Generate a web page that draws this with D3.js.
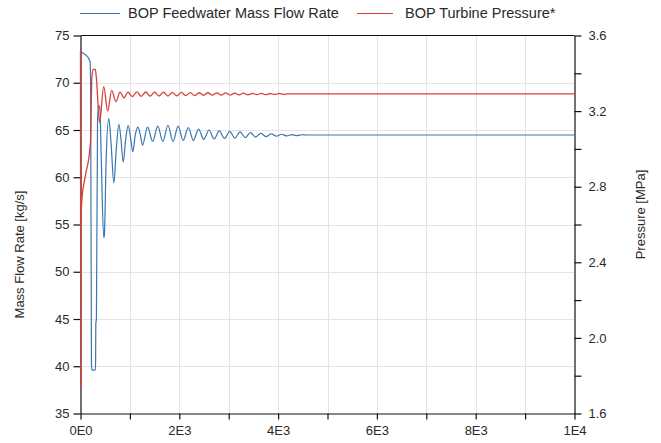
<!DOCTYPE html>
<html><head><meta charset="utf-8">
<script src="https://cdn.jsdelivr.net/npm/d3@7"></script>
<style>
body{margin:0;background:#fff}
svg{display:block}
text{font-family:"Liberation Sans",Arial,sans-serif;fill:#2a2a2a}
</style>
</head><body>
<svg id="c" width="661" height="443"></svg>
<script>
// ---- data ----
const seriesNames = ["BOP Feedwater Mass Flow Rate", "BOP Turbine Pressure*"];
const flowTime = [0,60,150,195,205,222,232,300,306,310,322,345,370,392,420,470,482,520,573,620,675,725,776,820,864,915,965,1010,1059,1110,1160,1210,1255,
  1358,1461,1564,1667,1770,1873,1976,2079,2182,2285,2390,2495,2600,2705,2810,2915,3020,3125,3230,3335,3440,3545,3650,3755,3860,3965,4070,4175,4280,4385,4490,4560,10000];
const flowValue = [73.3,73.1,72.7,72.2,69.8,40.2,39.6,39.6,40.5,44.5,45.0,66.0,67.6,67.3,62.0,53.6,53.8,62.0,66.2,63.5,59.4,63.0,65.6,64.0,61.6,64.0,65.5,64.3,62.7,64.5,65.3,64.5,63.4,
  65.3,63.8,65.4,63.8,65.5,63.8,65.4,63.9,65.25,63.9,65.1,64.0,65.0,64.05,64.9,64.1,64.85,64.15,64.8,64.2,64.72,64.25,64.65,64.3,64.6,64.35,64.55,64.37,64.52,64.4,64.5,64.47,64.47];
const pressureTime = [0,3,6,25,100,190,205,230,260,300,320,385,400,470,551,630,720,800,880,960,
  1050,1140,1230,1320,1410,1500,1590,1680,1770,1860,1950,2040,2130,2220,2310,2400,2490,2580,2670,2760,2850,2940,3030,3120,3210,3300,3390,3480,3570,3660,3750,3840,3930,4020,4110,4190,10000];
const pressureValue = [3.52,1.74,2.58,2.72,2.86,3.0,3.05,3.38,3.42,3.42,3.38,3.14,3.16,3.33,3.20,3.31,3.25,3.30,3.27,3.30,
  3.277,3.302,3.278,3.301,3.279,3.300,3.280,3.300,3.280,3.299,3.281,3.299,3.282,3.298,3.282,3.297,3.283,3.297,3.284,3.296,3.284,3.296,3.285,3.295,3.286,3.295,3.286,3.294,3.287,3.294,3.287,3.293,3.288,3.293,3.289,3.291,3.291];
const xTickValues = [0,1000,2000,3000,4000,5000,6000,7000,8000,9000,10000];
const xTickLabels = ["0E0","","2E3","","4E3","","6E3","","8E3","","1E4"];
const leftTickValues = [35,40,45,50,55,60,65,70,75];
const rightTickValues = [1.6,1.8,2.0,2.2,2.4,2.6,2.8,3.0,3.2,3.4,3.6];
const rightTickLabels = ["1.6","","2.0","","2.4","","2.8","","3.2","","3.6"];
const leftTitle = "Mass Flow Rate [kg/s]";
const rightTitle = "Pressure [MPa]";

// ---- layout ----
const L = 80.5, R = 574.5, T = 35.5, B = 413.5;
const blue = "#3a76b2", red = "#d8403c", grid = "#e4e4e4";
const svg = d3.select("#c");

const x = d3.scaleLinear().domain([0,10000]).range([L,R]);
const yL = d3.scaleLinear().domain([35,75]).range([B,T]);
const yR = d3.scaleLinear().domain([1.6,3.6]).range([B,T]);

// grid
svg.append("g").selectAll("line").data(xTickValues.slice(1,-1)).join("line")
  .attr("x1",d=>Math.round(x(d))+0.5).attr("x2",d=>Math.round(x(d))+0.5).attr("y1",T).attr("y2",B)
  .attr("stroke",grid).attr("stroke-width",1);
svg.append("g").selectAll("line").data(leftTickValues.slice(1,-1)).join("line")
  .attr("y1",d=>Math.round(yL(d))+0.5).attr("y2",d=>Math.round(yL(d))+0.5).attr("x1",L).attr("x2",R)
  .attr("stroke",grid).attr("stroke-width",1);

// axes
function styleAxis(g){
  g.selectAll(".domain").attr("stroke","#111").attr("stroke-width",1.2);
  g.selectAll(".tick line").attr("stroke","#111").attr("stroke-width",1.2);
  g.selectAll(".tick text").attr("font-size","13px").attr("fill","#2a2a2a")
   .attr("font-family","'Liberation Sans',Arial,sans-serif");
}
svg.append("g").attr("transform",`translate(${L},0)`)
  .call(d3.axisLeft(yL).tickValues(leftTickValues).tickSize(7).tickSizeOuter(0).tickPadding(4).tickFormat(d3.format("d")))
  .call(styleAxis);
svg.append("g").attr("transform",`translate(${R},0)`)
  .call(d3.axisRight(yR).tickValues(rightTickValues).tickSize(7).tickSizeOuter(0).tickPadding(7).tickFormat((d,i)=>rightTickLabels[i]))
  .call(styleAxis);
svg.append("g").attr("transform",`translate(0,${B})`)
  .call(d3.axisBottom(x).tickValues(xTickValues).tickSize(6).tickSizeOuter(0).tickPadding(6).tickFormat((d,i)=>xTickLabels[i]))
  .call(styleAxis);
// top frame
svg.append("line").attr("x1",L).attr("x2",R).attr("y1",T).attr("y2",T).attr("stroke","#111").attr("stroke-width",1.2);

// clip (includes the left axis line so the t=0 segments draw over it)
svg.append("clipPath").attr("id","clip").append("rect").attr("x",L-1.5).attr("y",T).attr("width",R-L+1.5).attr("height",B-T);

const flowData = flowTime.map((t,i)=>({t, v: flowValue[i]}));
const presData = pressureTime.map((t,i)=>({t, v: pressureValue[i]}));

const lineL = d3.line().x(d=>x(d.t)).y(d=>yL(d.v)).curve(d3.curveMonotoneX);
const lineR = d3.line().x(d=>x(d.t)).y(d=>yR(d.v)).curve(d3.curveMonotoneX);

const plot = svg.append("g").attr("clip-path","url(#clip)");
plot.append("path").datum(flowData).attr("d",lineL).attr("fill","none").attr("stroke",blue).attr("stroke-width",1.2);
plot.append("path").datum(presData).attr("d",lineR).attr("fill","none").attr("stroke",red).attr("stroke-width",1.3);

// titles
svg.append("text").attr("transform",`translate(24,${(T+B)/2+30}) rotate(-90)`).attr("text-anchor","middle")
  .attr("font-size","13px").text(leftTitle);
svg.append("text").attr("transform",`translate(645,${(T+B)/2-10}) rotate(-90)`).attr("text-anchor","middle")
  .attr("font-size","13px").text(rightTitle);

// legend
const leg = svg.append("g");
const legendItems = [{name:seriesNames[0], color:blue, x0:80, x1:120, tx:128},
                     {name:seriesNames[1], color:red, x0:357, x1:393, tx:405}];
legendItems.forEach(it=>{
  leg.append("line").attr("x1",it.x0).attr("x2",it.x1).attr("y1",13.5).attr("y2",13.5).attr("stroke",it.color).attr("stroke-width",1.2);
  leg.append("text").attr("x",it.tx).attr("y",18).attr("font-size","14.5px").text(it.name);
});
</script>
</body></html>
